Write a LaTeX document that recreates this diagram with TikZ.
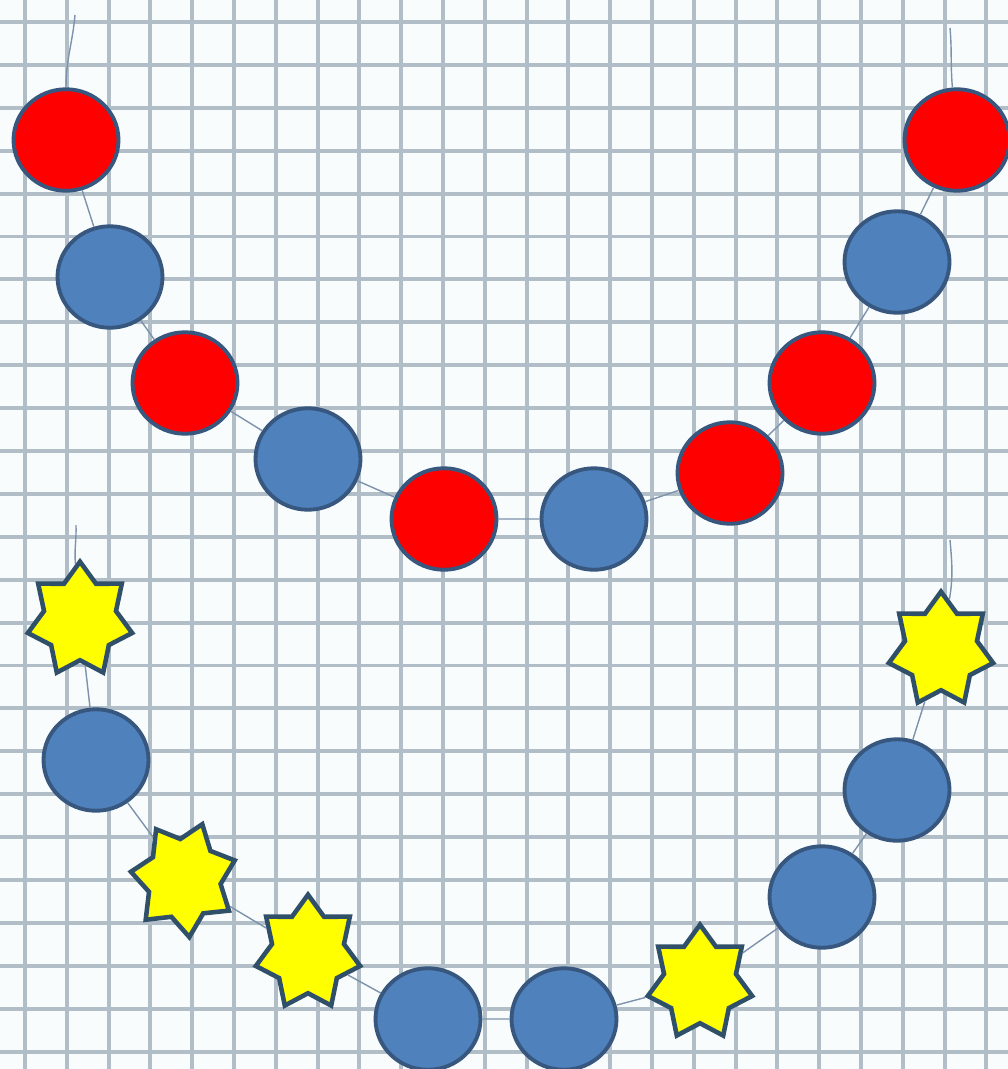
\documentclass[tikz,border=0pt]{standalone}
\usepackage{xcolor}
\usepackage{tikz}
\usetikzlibrary{shapes.geometric, shapes.misc}
\definecolor{paper}{HTML}{F9FCFD}
\definecolor{gridblue}{HTML}{B1BEC7}
\definecolor{beadred}{HTML}{FF0000}
\definecolor{beadblue}{HTML}{4F81BD}
\definecolor{rim}{HTML}{37577F}
\definecolor{starrim}{HTML}{30506A}
\definecolor{staryellow}{HTML}{FFFF00}
\definecolor{threadgray}{HTML}{7D93AB}
\tikzset{
  redbead/.style={ellipse, draw=rim, line width=2.2pt, fill=beadred, minimum width=2.1cm, minimum height=2.03cm, inner sep=0pt},
  bluebead/.style={redbead, fill=beadblue},
  starbead/.style={star, star points=7, star point ratio=1.45, draw=starrim, line width=2.6pt, fill=staryellow, minimum size=2.14cm, inner sep=0pt, yscale=1.09},
  thread/.style={draw=threadgray, line width=0.8pt},
  gridline/.style={gridblue, line width=2.2pt},
}

\begin{document}
\begin{tikzpicture}[x=0.02cm, y=-0.02cm]
\useasboundingbox (0,0) rectangle (1008,1069);
\clip (0,0) rectangle (1008,1069);
\fill[paper] (0,0) rectangle (1008,1069);
% squared paper
\foreach \i in {0,...,23} \draw[gridline] ({25+41.8*\i},0) -- ++(0,1069);
\foreach \j in {0,...,24} \draw[gridline] (0,{22+42.9*\j}) -- ++(1008,0);

% upper garland
\node[redbead] (r1) at (66,140) {};
\node[bluebead] (b1) at (110,277) {};
\node[redbead] (r2) at (185,383) {};
\node[bluebead] (b2) at (308,459) {};
\node[redbead] (r3) at (444,519) {};
\node[bluebead] (b3) at (594,519) {};
\node[redbead] (r4) at (730,473) {};
\node[redbead] (r5) at (822,383) {};
\node[bluebead] (b4) at (897,262) {};
\node[redbead] (r6) at (957,140) {};
\coordinate (uleft) at (75,15);
\coordinate (uright) at (950,28);
\draw[thread] (uleft) to[out=-95,in=90] (r1);
\draw[thread] (uright) to[out=-85,in=95] (r6);
\draw[thread] (r1)--(b1) (b1)--(r2) (r2)--(b2) (b2)--(r3) (r3)--(b3) (b3)--(r4) (r4)--(r5) (r5)--(b4) (b4)--(r6);

% lower garland
\node[starbead] (s1) at (80,620) {};
\node[bluebead] (b5) at (96,760) {};
\node[starbead, rotate=-20] (s2) at (184,879) {};
\node[starbead] (s3) at (308,953) {};
\node[bluebead] (b6) at (428,1019) {};
\node[bluebead] (b7) at (564,1019) {};
\node[starbead] (s4) at (700,983) {};
\node[bluebead] (b8) at (822,897) {};
\node[bluebead] (b9) at (897,790) {};
\node[starbead] (s5) at (941,650) {};
\coordinate (lleft) at (76,525);
\coordinate (lright) at (950,540);
\draw[thread] (lleft) to[out=-88,in=95] (s1);
\draw[thread] (lright) to[out=-85,in=80] (s5);
\draw[thread] (s1)--(b5) (b5)--(s2) (s2)--(s3) (s3)--(b6) (b6)--(b7) (b7)--(s4) (s4)--(b8) (b8)--(b9) (b9)--(s5);
\end{tikzpicture}
\end{document}
